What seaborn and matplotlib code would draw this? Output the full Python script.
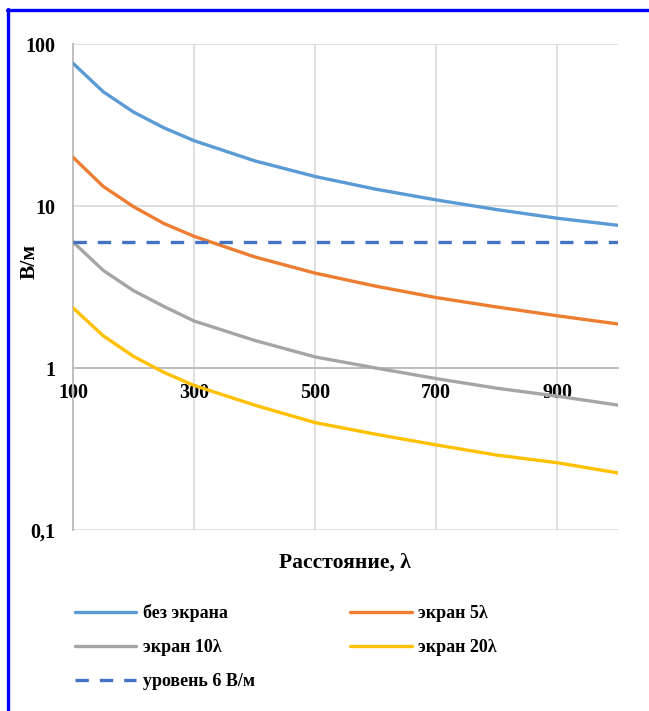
import matplotlib
matplotlib.use("Agg")
import matplotlib.pyplot as plt
import seaborn as sns
import pandas as pd
from matplotlib.lines import Line2D
from matplotlib.ticker import NullLocator, FixedLocator

# ---- data ----
distance = [100, 150, 200, 250, 300, 400, 500, 600, 700, 800, 900, 1000]
no_screen = [76, 50.7, 38, 30.4, 25.3, 19, 15.2, 12.7, 10.9, 9.5, 8.4, 7.6]
screen_5 = [20, 13.2, 9.9, 7.8, 6.5, 4.85, 3.85, 3.2, 2.72, 2.38, 2.1, 1.87]
screen_10 = [6.0, 4.0, 3.0, 2.4, 1.95, 1.48, 1.17, 1.0, 0.86, 0.75, 0.67, 0.59]
screen_20 = [2.35, 1.58, 1.18, 0.94, 0.78, 0.59, 0.46, 0.39, 0.335, 0.29, 0.26, 0.225]
level_6 = [6] * len(distance)

series_names = ["без экрана", "экран 5λ", "экран 10λ", "экран 20λ", "уровень 6 В/м"]
series_values = [no_screen, screen_5, screen_10, screen_20, level_6]
series_colors = ["#5B9BD5", "#ED7D31", "#A5A5A5", "#FFC000", "#4472C4"]

x_ticks = [100, 300, 500, 700, 900]
y_ticks = [0.1, 1, 10, 100]
y_tick_labels = ["0,1", "1", "10", "100"]

x_title = "Расстояние, λ"
y_title = "В/м"

# ---- figure ----
sns.set_theme(style="white")
plt.rcParams["font.family"] = ["Liberation Serif", "DejaVu Serif"]
plt.rcParams["font.weight"] = "bold"
plt.rcParams["text.color"] = "black"

W, H = 649, 711
fig = plt.figure(figsize=(W / 100, H / 100), dpi=100)
ax = fig.add_axes([73 / W, 1 - 530 / H, (618 - 73) / W, (530 - 44) / H])

rows = []
for name, vals in zip(series_names, series_values):
    for xv, yv in zip(distance, vals):
        rows.append({"x": xv, "y": yv, "series": name})
df = pd.DataFrame(rows)

palette = dict(zip(series_names, series_colors))
dashes = {n: "" for n in series_names}
dashes["уровень 6 В/м"] = (4, 3.3)
sns.lineplot(data=df, x="x", y="y", hue="series", style="series",
             palette=palette, dashes=dashes, linewidth=2.4, ax=ax,
             legend=False, zorder=3)
for ln in ax.get_lines():
    ln.set_solid_capstyle("round")
    ln.set_solid_joinstyle("round")
    ln.set_dash_capstyle("butt")

ax.set_yscale("log")
ax.set_ylim(0.1, 100)
ax.set_xlim(100, 1000)
ax.yaxis.set_major_locator(FixedLocator(y_ticks))
ax.yaxis.set_minor_locator(NullLocator())
ax.set_yticklabels(y_tick_labels)
ax.set_xticks(x_ticks)
ax.set_xticklabels([str(t) for t in x_ticks])
ax.set_xlabel("")
ax.set_ylabel("")

ax.grid(True, which="major", color="#D9D9D9", linewidth=1.2, zorder=0)
for s in ["top", "right"]:
    ax.spines[s].set_visible(False)
ax.spines["bottom"].set_position(("data", 1))
ax.spines["bottom"].set_color("#BFBFBF")
ax.spines["bottom"].set_linewidth(1.4)
ax.spines["left"].set_color("#BFBFBF")
ax.spines["left"].set_linewidth(1.4)
ax.tick_params(axis="both", length=0, labelsize=14.5, colors="black")
ax.tick_params(axis="x", pad=11)
ax.tick_params(axis="y", pad=13)
for lab in ax.get_xticklabels() + ax.get_yticklabels():
    lab.set_fontweight("bold")

fig.text(345 / W, 1 - 563 / H, x_title, ha="center", va="center",
         fontsize=15.5, fontweight="bold", color="black")
fig.text(30 / W, 1 - 261 / H, y_title, ha="center", va="center",
         rotation=90, fontsize=15.5, fontweight="bold", color="black")

# legend
handles = {}
for name, col in zip(series_names, series_colors):
    if name == "уровень 6 В/м":
        handles[name] = Line2D([], [], color=col, linewidth=2.4, dashes=(4, 3.3))
    else:
        handles[name] = Line2D([], [], color=col, linewidth=2.4, solid_capstyle="round")
order = ["без экрана", "экран 10λ", "уровень 6 В/м", "экран 5λ", "экран 20λ"]
leg = fig.legend([handles[n] for n in order], order, ncol=2, frameon=False,
                 loc="upper left", bbox_to_anchor=(75 / W, 1 - 604 / H),
                 borderpad=0, borderaxespad=0, handlelength=3.4, handletextpad=0.35,
                 columnspacing=5.3, labelspacing=0.95,
                 prop={"size": 13, "weight": "bold"})
for t in leg.get_texts():
    t.set_color("black")

# blue frame (top & left edges visible)
fig.add_artist(Line2D([7 / W, 1.0], [1 - 10 / H, 1 - 10 / H], color="#0000FF",
                      linewidth=2.4, transform=fig.transFigure))
fig.add_artist(Line2D([8 / W, 8 / W], [0.0, 1 - 9 / H], color="#0000FF",
                      linewidth=2.4, transform=fig.transFigure))

fig.savefig("out.png", dpi=100, facecolor="white")
